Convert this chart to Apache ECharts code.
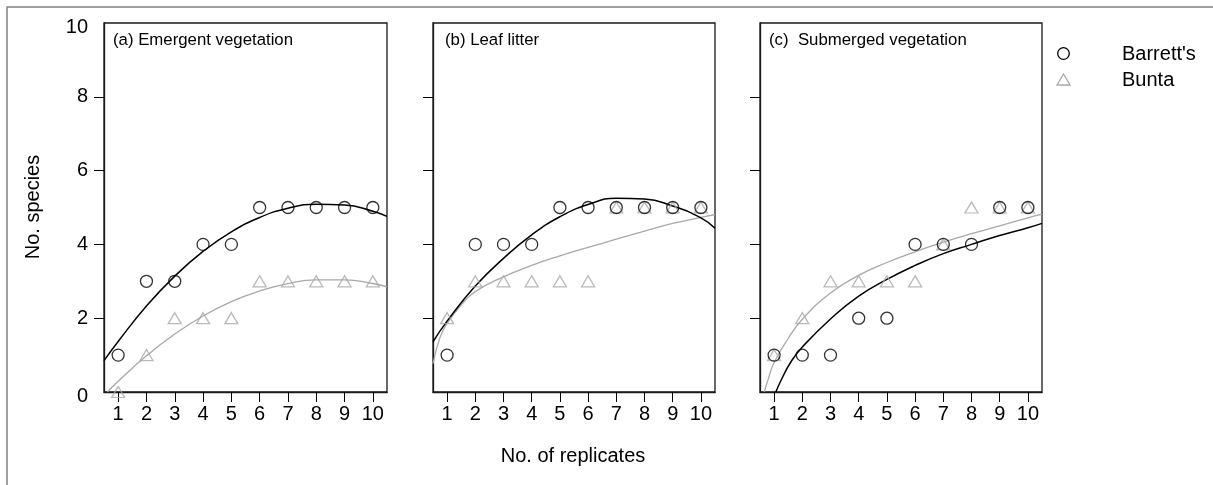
<!DOCTYPE html>
<html>
<head>
<meta charset="utf-8">
<script src="https://cdn.jsdelivr.net/npm/echarts@6/dist/echarts.min.js"></script>
<style>
html,body{margin:0;padding:0;background:#fff;}
#chart{width:1213px;height:485px;}
</style>
</head>
<body>
<div id="chart"></div>
<script>
// ---- data ----
const replicates = [1, 2, 3, 4, 5, 6, 7, 8, 9, 10];
const yTickLabels = [0, 2, 4, 6, 8, 10];
const yTickMarks = [2, 4, 6, 8];
const panelTitles = ['(a) Emergent vegetation', '(b) Leaf litter', '(c)  Submerged vegetation'];
const seriesNames = ["Barrett's", 'Bunta'];

const barrettA = [1, 3, 3, 4, 4, 5, 5, 5, 5, 5];
const buntaA   = [0, 1, 2, 2, 2, 3, 3, 3, 3, 3];
const barrettB = [1, 4, 4, 4, 5, 5, 5, 5, 5, 5];
const buntaB   = [2, 3, 3, 3, 3, 3, 5, 5, 5, 5];
const barrettC = [1, 1, 1, 2, 2, 4, 4, 4, 5, 5];
const buntaC   = [1, 2, 3, 3, 3, 3, 4, 5, 5, 5];

// fitted curves
const fitBarrettA_x = [0.5, 1, 2, 3, 4, 5, 6, 7, 8, 9, 10, 10.5];
const fitBarrettA_y = [0.85, 1.37, 2.33, 3.14, 3.81, 4.34, 4.73, 4.98, 5.09, 5.07, 4.90, 4.76];
const fitBuntaA_x = [0.62, 1, 2, 3, 4, 5, 6, 7, 8, 9, 10, 10.5];
const fitBuntaA_y = [0, 0.29, 0.98, 1.57, 2.06, 2.45, 2.74, 2.94, 3.04, 3.04, 2.94, 2.85];
const fitBarrettB_x = [0.5, 1, 2, 3, 4, 5, 6, 7, 8, 9, 10, 10.5];
const fitBarrettB_y = [1.36, 1.92, 2.87, 3.62, 4.26, 4.75, 5.08, 5.25, 5.23, 5.04, 4.72, 4.44];
const fitBuntaB_x = [0.5, 0.75, 1, 1.5, 2, 3, 4, 5, 6, 7, 8, 9, 10, 10.5];
const fitBuntaB_y = [0.77, 1.48, 1.86, 2.36, 2.72, 3.12, 3.43, 3.69, 3.92, 4.14, 4.36, 4.57, 4.73, 4.81];
const fitBarrettC_x = [1.06, 1.3, 1.6, 2, 3, 4, 5, 6, 7, 8, 9, 10, 10.5];
const fitBarrettC_y = [0, 0.40, 0.82, 1.22, 1.98, 2.6, 3.05, 3.43, 3.75, 4.0, 4.24, 4.45, 4.57];
const fitBuntaC_x = [0.65, 0.8, 1, 1.5, 2, 3, 4, 5, 6, 7, 8, 9, 10, 10.5];
const fitBuntaC_y = [0, 0.37, 0.8, 1.45, 1.97, 2.68, 3.16, 3.51, 3.8, 4.06, 4.29, 4.5, 4.72, 4.82];

// ---- build ----
const FONT = "'Liberation Sans', Arial, sans-serif";
const BLACK = '#000000';
const GREY = '#a8a8a8';
const gridLefts = [104, 433, 760];
const gridWidths = [283, 282, 282];
const gridTop = 23, gridHeight = 369;

const panels = [
  {b: barrettA, u: buntaA, fbx: fitBarrettA_x, fby: fitBarrettA_y, fux: fitBuntaA_x, fuy: fitBuntaA_y},
  {b: barrettB, u: buntaB, fbx: fitBarrettB_x, fby: fitBarrettB_y, fux: fitBuntaB_x, fuy: fitBuntaB_y},
  {b: barrettC, u: buntaC, fbx: fitBarrettC_x, fby: fitBarrettC_y, fux: fitBuntaC_x, fuy: fitBuntaC_y}
];
const zip = (xs, ys) => xs.map((x, i) => [x, ys[i]]);

const grid = [], xAxis = [], yAxis = [], series = [], graphic = [];
panels.forEach((p, i) => {
  grid.push({left: gridLefts[i], top: gridTop, width: gridWidths[i], height: gridHeight,
    show: true, borderColor: '#1a1a1a', borderWidth: 1.3, backgroundColor: 'transparent'});
  xAxis.push({
    gridIndex: i, type: 'value', min: 0.5, max: 10.5,
    splitLine: {show: false},
    axisLine: {show: true, lineStyle: {color: '#1a1a1a', width: 1.3}},
    axisTick: {show: true, length: 10, customValues: replicates, lineStyle: {color: BLACK, width: 1}},
    axisLabel: {customValues: replicates, fontSize: 20, color: BLACK, margin: 12, fontFamily: FONT}
  });
  yAxis.push({
    gridIndex: i, type: 'value', min: 0, max: 10, interval: 2,
    splitLine: {show: false},
    axisLine: {show: true, lineStyle: {color: '#1a1a1a', width: 1.3}},
    axisTick: {show: true, length: 10, customValues: yTickMarks, lineStyle: {color: BLACK, width: 1}},
    axisLabel: {
      show: i === 0, customValues: yTickLabels, fontSize: 20, color: BLACK, margin: 16, fontFamily: FONT,
      formatter: v => (v === 0 || v === 10) ? '{e|' + v + '}' : String(v),
      rich: {e: {fontSize: 20, fontFamily: FONT, color: BLACK, padding: [8, 0, 0, 0]}}
    }
  });
  series.push({
    name: seriesNames[1], type: 'line', xAxisIndex: i, yAxisIndex: i,
    data: zip(p.fux, p.fuy), smooth: true, showSymbol: false, clip: true,
    lineStyle: {color: GREY, width: 1.3}, silent: true, z: 2
  });
  series.push({
    name: seriesNames[0], type: 'line', xAxisIndex: i, yAxisIndex: i,
    data: zip(p.fbx, p.fby), smooth: true, showSymbol: false, clip: true,
    lineStyle: {color: BLACK, width: 1.5}, silent: true, z: 2
  });
  series.push({
    name: seriesNames[1], type: 'scatter', xAxisIndex: i, yAxisIndex: i,
    data: zip(replicates, p.u), symbol: 'triangle', symbolSize: [13, 11],
    itemStyle: {color: 'rgba(0,0,0,0)', borderColor: GREY, borderWidth: 1.3}, z: 3
  });
  series.push({
    name: seriesNames[0], type: 'scatter', xAxisIndex: i, yAxisIndex: i,
    data: zip(replicates, p.b), symbol: 'circle', symbolSize: 12,
    itemStyle: {color: 'rgba(0,0,0,0)', borderColor: BLACK, borderWidth: 1.3}, z: 4
  });
  graphic.push({
    type: 'text', left: gridLefts[i] + (i === 1 ? 12 : 9), top: 32,
    style: {text: panelTitles[i], fontSize: 16.8, fontFamily: FONT, fill: BLACK}
  });
});

// outer frame (top and left edges visible)
graphic.push({type: 'polyline', shape: {points: [[7, 485], [7, 7], [1213, 7]]},
  style: {stroke: '#808080', lineWidth: 1.5, fill: null}});
// axis titles
graphic.push({type: 'text', x: 33, y: 207, rotation: Math.PI / 2,
  style: {text: 'No. species', fontSize: 20, fontFamily: FONT, fill: BLACK, align: 'center', verticalAlign: 'middle'}});
graphic.push({type: 'text', x: 573, y: 456,
  style: {text: 'No. of replicates', fontSize: 20, fontFamily: FONT, fill: BLACK, align: 'center', verticalAlign: 'middle'}});
// legend
graphic.push({type: 'circle', shape: {cx: 1063.5, cy: 53.5, r: 5.8},
  style: {stroke: BLACK, lineWidth: 1.3, fill: null}});
graphic.push({type: 'polygon', shape: {points: [[1063.5, 74], [1057, 85], [1070, 85]]},
  style: {stroke: GREY, lineWidth: 1.3, fill: null}});
graphic.push({type: 'text', x: 1122, y: 54,
  style: {text: seriesNames[0], fontSize: 20, fontFamily: FONT, fill: BLACK, verticalAlign: 'middle'}});
graphic.push({type: 'text', x: 1122, y: 80,
  style: {text: seriesNames[1], fontSize: 20, fontFamily: FONT, fill: BLACK, verticalAlign: 'middle'}});

const chart = echarts.init(document.getElementById('chart'), null, {renderer: 'canvas'});
chart.setOption({
  animation: false,
  backgroundColor: '#ffffff',
  textStyle: {fontFamily: FONT},
  grid, xAxis, yAxis, series, graphic
});
</script>
</body>
</html>
